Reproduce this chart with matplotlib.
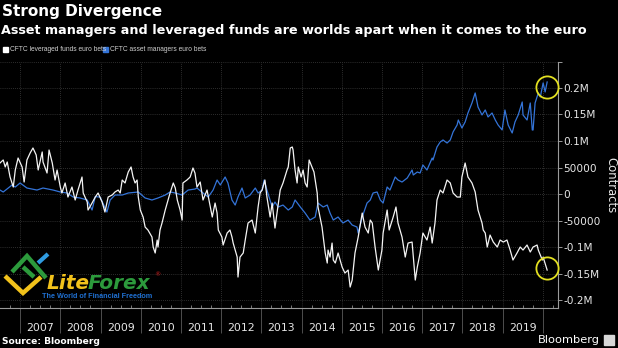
import matplotlib
matplotlib.use("Agg")
import matplotlib.pyplot as plt
import numpy as np
from matplotlib.lines import Line2D
from matplotlib.patches import Rectangle

# CFTC net positioning in euro futures, thousands of contracts
lev_years = [
    2006.50, 2006.58, 2006.63, 2006.68, 2006.75, 2006.83, 2006.88, 2006.95,
    2007.05, 2007.10, 2007.17, 2007.25, 2007.32, 2007.40, 2007.45, 2007.55,
    2007.57, 2007.67, 2007.72, 2007.80, 2007.87, 2007.92, 2008.00, 2008.04,
    2008.12, 2008.19, 2008.29, 2008.37, 2008.44, 2008.54, 2008.57, 2008.67,
    2008.69, 2008.79, 2008.87, 2008.94, 2009.04, 2009.11, 2009.19, 2009.29,
    2009.36, 2009.44, 2009.49, 2009.54, 2009.61, 2009.69, 2009.76, 2009.81,
    2009.86, 2009.91, 2009.94, 2009.99, 2010.06, 2010.11, 2010.18, 2010.28,
    2010.31, 2010.36, 2010.41, 2010.43, 2010.48, 2010.53, 2010.61, 2010.66,
    2010.73, 2010.81, 2010.86, 2010.91, 2010.98, 2011.03, 2011.05, 2011.15,
    2011.23, 2011.30, 2011.35, 2011.40, 2011.48, 2011.55, 2011.65, 2011.73,
    2011.78, 2011.85, 2011.90, 2011.93, 2012.02, 2012.05, 2012.15, 2012.22,
    2012.27, 2012.30, 2012.40, 2012.42, 2012.47, 2012.55, 2012.60, 2012.67,
    2012.77, 2012.85, 2012.92, 2012.97, 2013.02, 2013.09, 2013.14, 2013.22,
    2013.27, 2013.34, 2013.39, 2013.47, 2013.54, 2013.64, 2013.67, 2013.72,
    2013.77, 2013.79, 2013.84, 2013.89, 2013.92, 2013.99, 2014.04, 2014.09,
    2014.14, 2014.19, 2014.26, 2014.31, 2014.39, 2014.41, 2014.51, 2014.59,
    2014.64, 2014.66, 2014.71, 2014.76, 2014.79, 2014.84, 2014.91, 2015.01,
    2015.08, 2015.16, 2015.21, 2015.26, 2015.33, 2015.41, 2015.51, 2015.58,
    2015.66, 2015.71, 2015.76, 2015.83, 2015.91, 2016.00, 2016.03, 2016.13,
    2016.18, 2016.28, 2016.35, 2016.40, 2016.50, 2016.58, 2016.65, 2016.75,
    2016.83, 2016.88, 2016.95, 2017.02, 2017.12, 2017.20, 2017.25, 2017.32,
    2017.37, 2017.45, 2017.52, 2017.62, 2017.70, 2017.77, 2017.87, 2017.95,
    2017.99, 2018.07, 2018.14, 2018.24, 2018.32, 2018.39, 2018.49, 2018.52,
    2018.57, 2018.62, 2018.69, 2018.77, 2018.87, 2018.94, 2019.02, 2019.11,
    2019.19, 2019.26, 2019.36, 2019.44, 2019.51, 2019.61, 2019.69, 2019.76,
    2019.86, 2019.89, 2019.99, 2020.01, 2020.11,
]
lev_k = [
    58.5, 64.2, 51.0, 60.4, 32.1, 13.2, 45.3, 67.9,
    51.0, 22.6, 64.2, 77.4, 86.8, 73.6, 45.3, 79.3,
    60.4, 39.6, 83.0, 58.5, 26.4, 45.3, 13.2, 1.9,
    20.8, -5.7, 13.2, -11.3, 7.5, 32.1, 1.9, -15.1,
    -30.2, -17.0, -5.7, 1.9, -15.1, -34.0, -5.7, -1.9,
    3.8, 7.5, 1.9, 26.4, 20.8, 41.5, 51.0, 32.1,
    20.8, 26.4, -5.7, -30.2, -43.4, -62.3, -67.9, -81.1,
    -100.0, -111.3, -86.8, -100.0, -67.9, -54.7, -30.2, -17.0,
    1.9, 20.8, 11.3, -11.3, -30.2, -49.1, 20.8, 26.4,
    32.1, 49.1, 39.6, 13.2, 22.6, -11.3, 7.5, -24.5,
    -43.4, -17.0, -35.9, -67.9, -81.1, -96.2, -73.6, -67.9,
    -81.1, -92.5, -118.9, -156.6, -118.9, -111.3, -86.8, -54.7,
    -49.1, -73.6, -24.5, 1.9, 7.5, 26.4, -5.7, -43.4,
    -17.0, -64.2, -35.9, 7.5, 20.8, 45.3, 51.0, 86.8,
    88.7, 83.0, 45.3, 20.8, 51.0, 32.1, 45.3, 20.8,
    13.2, 64.2, 51.0, 41.5, 1.9, -24.5, -62.3, -111.3,
    -130.2, -105.7, -118.9, -92.5, -124.5, -130.2, -111.3, -137.8,
    -149.1, -143.4, -175.5, -162.3, -111.3, -81.1, -35.9, -62.3,
    -73.6, -49.1, -54.7, -100.0, -143.4, -105.7, -73.6, -30.2,
    -67.9, -43.4, -24.5, -54.7, -81.1, -118.9, -92.5, -90.6,
    -162.3, -137.8, -111.3, -73.6, -86.8, -62.3, -92.5, -54.7,
    -11.3, 7.5, 1.9, 26.4, 20.8, 1.9, -5.7, -5.7,
    32.1, 58.5, 32.1, 20.8, 3.8, -30.2, -54.7, -67.9,
    -73.6, -100.0, -77.4, -90.6, -100.0, -86.8, -90.6, -86.8,
    -105.7, -124.5, -111.3, -100.0, -105.7, -96.2, -109.4, -100.0,
    -96.2, -105.7, -124.5, -118.9, -143.4,
]

am_years = [
    2006.50, 2006.58, 2006.80, 2006.88, 2007.00, 2007.17, 2007.42, 2007.57,
    2007.82, 2008.00, 2008.17, 2008.32, 2008.49, 2008.67, 2008.79, 2008.87,
    2008.99, 2009.16, 2009.24, 2009.36, 2009.54, 2009.69, 2009.94, 2010.11,
    2010.28, 2010.43, 2010.61, 2010.73, 2010.86, 2011.03, 2011.18, 2011.35,
    2011.40, 2011.55, 2011.68, 2011.80, 2011.90, 2011.98, 2012.10, 2012.17,
    2012.27, 2012.35, 2012.42, 2012.52, 2012.60, 2012.72, 2012.85, 2012.92,
    2013.02, 2013.07, 2013.14, 2013.27, 2013.34, 2013.42, 2013.54, 2013.67,
    2013.77, 2013.84, 2013.97, 2014.09, 2014.21, 2014.34, 2014.41, 2014.54,
    2014.64, 2014.71, 2014.79, 2014.91, 2015.03, 2015.16, 2015.26, 2015.38,
    2015.41, 2015.51, 2015.63, 2015.71, 2015.78, 2015.88, 2015.96, 2016.03,
    2016.13, 2016.20, 2016.33, 2016.40, 2016.50, 2016.63, 2016.75, 2016.78,
    2016.88, 2016.95, 2017.02, 2017.12, 2017.25, 2017.27, 2017.37, 2017.45,
    2017.52, 2017.62, 2017.70, 2017.77, 2017.87, 2017.90, 2017.99, 2018.07,
    2018.14, 2018.24, 2018.32, 2018.39, 2018.49, 2018.57, 2018.64, 2018.74,
    2018.82, 2018.89, 2018.99, 2019.06, 2019.14, 2019.24, 2019.31, 2019.39,
    2019.49, 2019.51, 2019.61, 2019.69, 2019.74, 2019.76, 2019.81, 2019.89,
    2019.94, 2019.99, 2020.01, 2020.06, 2020.11,
]
am_k = [
    7.5, 3.8, 17.0, 13.2, 20.8, 11.3, 7.5, 11.3,
    7.5, 3.8, 1.9, -5.7, -7.5, -11.3, -30.2, -5.0,
    -5.7, -34.0, -11.3, -1.9, -1.9, 1.9, 3.8, -7.5,
    -11.3, -7.5, -1.9, 3.8, 1.9, -1.9, 7.5, 9.4,
    11.3, 1.9, -5.7, 7.5, 26.4, 17.0, 32.1, 20.8,
    -11.3, -20.8, -5.7, 11.3, -7.5, -1.9, 11.3, 1.9,
    7.5, 26.4, 7.5, -24.5, -15.1, -24.5, -20.8, -30.2,
    -24.5, -11.3, -24.5, -35.9, -49.1, -43.4, -17.0, -24.5,
    -20.8, -35.9, -49.1, -43.4, -54.7, -49.1, -58.5, -62.3,
    -73.6, -43.4, -17.0, -11.3, 1.9, 3.8, -11.3, -17.0,
    13.2, 7.5, 32.1, 26.4, 22.6, 30.2, 45.3, 35.9,
    41.5, 39.6, 54.7, 45.3, 67.9, 64.2, 88.7, 98.1,
    101.9, 96.2, 101.9, 117.0, 130.2, 139.6, 124.5, 135.9,
    152.8, 171.7, 190.6, 164.2, 149.1, 158.5, 145.3, 152.8,
    139.6, 130.2, 120.8, 158.5, 130.2, 115.1, 135.9, 149.1,
    173.6, 149.1, 139.6, 171.7, 120.8, 120.8, 171.7, 190.6,
    183.0, 201.9, 209.5, 192.5, 211.3,
]

years = list(range(2007, 2020))
y_ticks = [-200000, -150000, -100000, -50000, 0, 50000, 100000, 150000, 200000, 249000]
y_tick_labels = ["-0.2M", "-0.15M", "-0.1M", "-50000", "0", "50000", "0.1M", "0.15M", "0.2M", ""]

BG = "#000000"
FG = "#e6e6e6"
GRID = "#3c3c3c"
BLUE = "#3474d8"
YELLOW = "#e3e021"
X0, X1 = 2006.5, 2020.38
Y0, Y1 = -215000, 249000

W, H = 618, 348
fig = plt.figure(figsize=(W / 100, H / 100), dpi=100, facecolor=BG)
ax = fig.add_axes([0.0, 1 - 308 / H, 558 / W, 246 / H], facecolor=BG)

lev = np.array(lev_k) * 1000
am = np.array(am_k) * 1000
ax.plot(lev_years, lev, color="#f4f4f4", lw=0.9, zorder=3)
ax.plot(am_years, am, color=BLUE, lw=0.9, zorder=2)

# ring round the latest readings (slightly nudged so the tail sits inside)
for xs, ys, nudge in ((am_years, am, -9000), (lev_years, lev, 4000)):
    ax.plot(xs[-1], ys[-1] + nudge, marker="o", ms=16, mfc="none",
            mec=YELLOW, mew=1.3, zorder=4, clip_on=False)

ax.yaxis.tick_right()
ax.set_yticks(y_ticks)
ax.set_yticklabels(y_tick_labels)
ax.tick_params(axis="y", colors="#9a9a9a", labelcolor=FG, length=3, width=0.7,
               labelsize=7.6, pad=1)
ax.set_ylabel("Contracts", color=FG, fontsize=8.4, rotation=270, labelpad=12)
ax.yaxis.set_label_position("right")

ax.set_xticks(years + [2020])
ax.set_xticklabels([])
quarters = [y + q / 4 for y in range(2006, 2021) for q in range(1, 4)]
ax.set_xticks([q for q in quarters if X0 < q < X1], minor=True)
ax.tick_params(axis="x", which="major", direction="out", length=18, width=0.6,
               color="#5a5a5a")
ax.tick_params(axis="x", which="minor", direction="in", length=2, width=0.6,
               color="#8a8a8a")
ax.set_xlim(X0, X1)
ax.set_ylim(Y0, Y1)
for yr in years:
    ax.text(yr + 0.5, -0.083, str(yr), transform=ax.get_xaxis_transform(),
            ha="center", va="center", color=FG, fontsize=7.8)

ax.grid(True, which="major", color=GRID, ls=(0, (1, 1.5)), lw=0.6)
for side in ("top", "left"):
    ax.spines[side].set_visible(False)
ax.spines["bottom"].set_color("#9a9a9a")
ax.spines["right"].set_color("#9a9a9a")
ax.spines["bottom"].set_linewidth(0.8)
ax.spines["right"].set_linewidth(0.8)

# header
fig.text(2 / W, 1 - 4 / H, "Strong Divergence", color="white", fontsize=11,
         fontweight="bold", va="top", ha="left")
fig.text(1 / W, 1 - 24 / H, "Asset managers and leveraged funds are worlds apart when it comes to the euro",
         color="white", fontsize=9.2, fontweight="bold", va="top", ha="left")

# legend row
narrow = ["Liberation Sans", "DejaVu Sans"]
fig.add_artist(Rectangle((3 / W, 1 - 52 / H), 5 / W, 5 / H, color="white",
                         transform=fig.transFigure))
fig.text(9.5 / W, 1 - 49.5 / H, "CFTC leveraged funds euro bets", color="#cfcfcf",
         fontsize=4.8, va="center", ha="left", family=narrow)
fig.add_artist(Rectangle((103 / W, 1 - 52 / H), 5 / W, 5 / H, color=BLUE,
                         transform=fig.transFigure))
fig.text(109.5 / W, 1 - 49.5 / H, "CFTC asset managers euro bets", color="#cfcfcf",
         fontsize=4.8, va="center", ha="left", family=narrow)

# footer
fig.text(2 / W, 1 - 342 / H, "Source: Bloomberg", color="white", fontsize=6.6,
         fontweight="bold", va="center", ha="left")
fig.text(600 / W, 1 - 340 / H, "Bloomberg", color="white", fontsize=8.2,
         va="center", ha="right")
fig.add_artist(Rectangle((604 / W, 1 - 345 / H), 10 / W, 10 / H, color="#d8d8d8",
                         transform=fig.transFigure))


def px_line(pts, color, lw):
    xs = [p[0] / W for p in pts]
    ys = [1 - p[1] / H for p in pts]
    fig.add_artist(Line2D(xs, ys, color=color, lw=lw, solid_capstyle="butt",
                          solid_joinstyle="miter", transform=fig.transFigure))


# LiteForex watermark
px_line([(5, 276), (23, 293), (41, 277)], "#f2c21b", 3.2)
px_line([(12, 272), (27, 256), (46, 278)], "#2c9a3c", 3.2)
px_line([(23, 267), (34, 277)], "#2c9a3c", 3.2)
px_line([(38, 263), (48, 254)], "#2f9be0", 3.0)
fig.text(47 / W, 1 - 289 / H, "Lite", color="#f2c21b", fontsize=14.5,
         fontweight="bold", style="italic", va="baseline", ha="left")
fig.text(88 / W, 1 - 289 / H, "Forex", color="#2c9a3c", fontsize=14.5,
         fontweight="bold", style="italic", va="baseline", ha="left")
fig.text(157 / W, 1 - 275 / H, "®", color="#d02020", fontsize=4.5, va="center", ha="center")
fig.text(42 / W, 1 - 297 / H, "The World of Financial Freedom", color="#1f6fd0",
         fontsize=5.2, fontweight="bold", va="center", ha="left",
         family=["Liberation Sans", "DejaVu Sans"])

fig.savefig("out.png", dpi=100, facecolor=BG)
